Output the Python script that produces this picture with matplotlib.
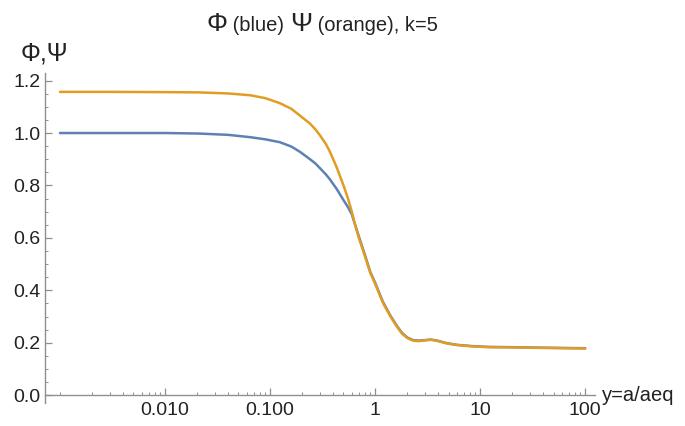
import matplotlib
matplotlib.use("Agg")
import matplotlib.pyplot as plt
import matplotlib.transforms as mtransforms
from matplotlib.ticker import NullFormatter

# --- Data (y = a/aeq, log scale) ---
Y_VALUES = [0.001, 0.003, 0.01, 0.021, 0.04, 0.065, 0.09, 0.124, 0.16, 0.193,
            0.24, 0.27, 0.30, 0.34, 0.37, 0.43, 0.50, 0.55, 0.60, 0.65,
            0.70, 0.80, 0.90, 1.0, 1.19, 1.4, 1.62, 1.8, 2.02, 2.3,
            2.6, 3.0, 3.4, 3.9, 4.85, 6.0, 8.4, 12, 20, 40, 100]

PHI = [1.0, 1.0, 1.0, 0.998, 0.993, 0.984, 0.976, 0.965, 0.948, 0.928,
       0.900, 0.884, 0.865, 0.842, 0.824, 0.787, 0.744, 0.718, 0.690, 0.646,
       0.606, 0.535, 0.470, 0.429, 0.355, 0.303, 0.263, 0.238, 0.220, 0.210,
       0.208, 0.210, 0.212, 0.208, 0.198, 0.192, 0.187, 0.184, 0.183, 0.181, 0.179]

PSI = [1.157, 1.157, 1.156, 1.155, 1.151, 1.144, 1.133, 1.114, 1.092, 1.066,
       1.036, 1.014, 0.990, 0.958, 0.930, 0.870, 0.800, 0.752, 0.700, 0.645,
       0.600, 0.530, 0.466, 0.425, 0.351, 0.300, 0.260, 0.235, 0.218, 0.208,
       0.206, 0.209, 0.211, 0.207, 0.197, 0.191, 0.186, 0.183, 0.182, 0.180, 0.178]

X_TICKS = [0.01, 0.1, 1, 10, 100]
X_TICK_LABELS = ["0.010", "0.100", "1", "10", "100"]
Y_TICKS = [0.0, 0.2, 0.4, 0.6, 0.8, 1.0, 1.2]
Y_TICK_LABELS = ["0.0", "0.2", "0.4", "0.6", "0.8", "1.0", "1.2"]

COLOR_PHI = "#5E81B5"
COLOR_PSI = "#E19C24"
AXIS_GRAY = "#8f8f8f"
TEXT_COLOR = "#222222"

plt.rcParams["font.family"] = ["Liberation Sans", "DejaVu Sans"]

W, H = 685, 426
fig = plt.figure(figsize=(W / 100, H / 100), dpi=100)
ax = fig.add_axes([45 / W, 1 - 403 / H, 550 / W, 330 / H])

ax.plot(Y_VALUES, PHI, color=COLOR_PHI, lw=1.8, solid_capstyle="round")
ax.plot(Y_VALUES, PSI, color=COLOR_PSI, lw=1.8, solid_capstyle="round")

ax.set_xscale("log")
ax.set_xlim(0.00072, 124)
ax.set_ylim(-0.03, 1.229)

# Mathematica-like axes crossing at the origin
ax.spines["top"].set_visible(False)
ax.spines["right"].set_visible(False)
ax.spines["bottom"].set_position(("data", 0))
for side in ("left", "bottom"):
    ax.spines[side].set_color(AXIS_GRAY)
    ax.spines[side].set_linewidth(1.0)

minor_x = [m * 10.0 ** e for e in range(-3, 2) for m in range(2, 10)] + [0.001]
ax.set_xticks(X_TICKS)
ax.set_xticklabels(X_TICK_LABELS)
ax.set_xticks(minor_x, minor=True)
ax.xaxis.set_minor_formatter(NullFormatter())
ax.set_yticks(Y_TICKS)
ax.set_yticklabels(Y_TICK_LABELS)
ax.set_yticks([v / 100 for v in range(0, 121, 5)], minor=True)
ax.yaxis.set_minor_formatter(NullFormatter())

ax.tick_params(axis="both", which="major", direction="in", length=5, width=0.9,
               color=AXIS_GRAY, labelsize=14, labelcolor=TEXT_COLOR)
ax.tick_params(axis="both", which="minor", direction="in", length=2.5, width=0.7,
               color=AXIS_GRAY)
ax.tick_params(axis="x", which="major", pad=5)
ax.tick_params(axis="y", which="major", pad=3)

# axis labels
blend = mtransforms.blended_transform_factory(ax.transAxes, ax.transData)
ax.text(1.013, 0.0, "y=a/aeq", transform=blend, ha="left", va="center",
        fontsize=14.5, color=TEXT_COLOR)
fig.text(21 / W, 1 - 61 / H, "Φ,Ψ", fontsize=18, color=TEXT_COLOR,
         ha="left", va="baseline")

# title made of mixed-size pieces, centred over the plot
pieces = [("Φ", 19), (" (blue) ", 14.5), ("Ψ", 19), (" (orange), k=5", 14.5)]
renderer = fig.canvas.get_renderer()
texts = [fig.text(0, 1 - 31 / H, s, fontsize=fs, color=TEXT_COLOR,
                  ha="left", va="baseline") for s, fs in pieces]
widths = [t.get_window_extent(renderer).width for t in texts]
x = 322 - sum(widths) / 2
for t, w in zip(texts, widths):
    t.set_x(x / W)
    x += w

fig.savefig("out.png", dpi=100)
